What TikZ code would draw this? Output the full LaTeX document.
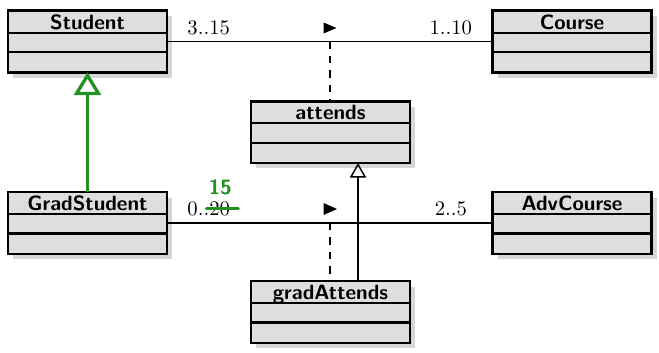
\documentclass[tikz,border=0pt]{standalone}
\usetikzlibrary{calc,arrows.meta,shadows}
\definecolor{umlfill}{gray}{0.87}
\definecolor{umlshadow}{gray}{0.84}
\definecolor{editgreen}{RGB}{34,145,34}
\tikzset{
  x=0.4835pt, y=-0.4835pt,
  classbox/.style={draw=black, line width=1.2pt, fill=umlfill, minimum width=76.9pt, minimum height=29.8pt, inner sep=0pt, outer sep=0pt,
    drop shadow={shadow xshift=2.6pt, shadow yshift=-2.6pt, fill=umlshadow, opacity=1}},
  classname/.style={font=\sffamily\bfseries, inner sep=0pt, anchor=base},
  divider/.style={line width=1pt},
  assoc/.style={line width=0.9pt},
  mult/.style={inner sep=0pt},
  dashedlink/.style={line width=1pt, dash pattern=on 3.6pt off 3.4pt},
  genarrow/.style={line width=0.7pt, -{Triangle[open, length=7pt, width=7.8pt]}},
  greengen/.style={draw=editgreen, line width=1.6pt, -{Triangle[open, length=11pt, width=13pt]}},
  dirmark/.style={fill=black},
}
\newcommand\umlclass[4]{%
  \node[classbox] (#1) at (#2,#3) {};
  \node[classname] (#1-name) at ($(#1.north)+(0,18.6)$) {#4};
  \draw[divider] ($(#1.north west)+(0,22)$) -- ($(#1.north east)+(0,22)$);
  \draw[divider] ($(#1.north west)+(0,41.3)$) -- ($(#1.north east)+(0,41.3)$);
}
\begin{document}
\begin{tikzpicture}
\useasboundingbox (0,0) rectangle (659,352);
\umlclass{student}{87.5}{41.5}{Student}
\umlclass{course}{572}{41.5}{Course}
\umlclass{attends}{330.5}{132.2}{attends}
\umlclass{gradstudent}{87.5}{223}{GradStudent}
\umlclass{advcourse}{572}{223}{AdvCourse}
\umlclass{gradattends}{330.5}{312}{gradAttends}

% associations
\draw[assoc] (student.east) -- (course.west);
\draw[assoc] (gradstudent.east) -- (advcourse.west);

% association class links
\coordinate (ac1) at (student.east -| attends.north);
\coordinate (ac2) at (gradstudent.east -| gradattends.north);
\draw[dashedlink] ($(ac1)+(-0.5,0)$) -- ($(attends.north)+(-0.5,0)$);
\draw[dashedlink] ($(ac2)+(-0.5,0)$) -- ($(gradattends.north)+(-0.5,0)$);

% generalizations
\coordinate (gx) at (358,0);
\draw[genarrow] (gradattends.north -| gx) -- (attends.south -| gx);
\draw[greengen] (gradstudent.north) -- (student.south);

% multiplicities
\node[mult, anchor=base west] (m1) at ($(student.east)+(20,-7.5)$) {3..15};
\node[mult, anchor=base east] (m2) at ($(course.west)+(-20,-7.5)$) {1..10};
\node[mult, anchor=base west] (m3) at ($(gradstudent.east)+(20,-7.5)$) {0..20};
\node[mult, anchor=base east] (m4) at ($(advcourse.west)+(-25,-7.5)$) {2..5};

% reading direction marks
\fill[dirmark] ($(ac1)+(-7,-19)$) -- ($(ac1)+(6,-13.5)$) -- ($(ac1)+(-7,-8)$) -- cycle;
\fill[dirmark] ($(ac2)+(-7,-20)$) -- ($(ac2)+(6.5,-14)$) -- ($(ac2)+(-7,-8)$) -- cycle;

% green edit
\draw[editgreen, line width=1.5pt, line cap=round] ($(m3.base east)+(-24,-7)$) -- ($(m3.base east)+(8,-7)$);
\node[font=\sffamily\bfseries, text=editgreen, inner sep=0pt, anchor=base] (fix) at ($(m3.base east)+(-10,-21)$) {15};
\end{tikzpicture}
\end{document}
